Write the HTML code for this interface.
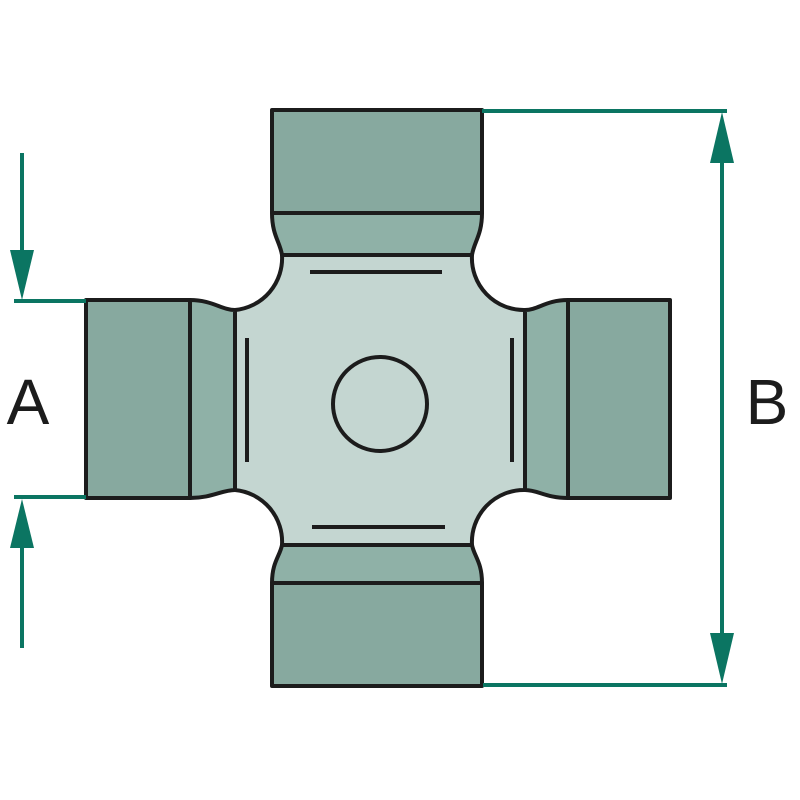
<!DOCTYPE html>
<html><head><style>body{margin:0;background:#fff}svg{display:block}</style></head>
<body>
<svg width="800" height="800" viewBox="0 0 800 800" xmlns="http://www.w3.org/2000/svg">
<g stroke="#1c1c1c" stroke-width="4" stroke-linejoin="round">
<path fill="#c4d6d1" d="M282,255 H472 A52,52 0 0 0 525,310 V490 A52,52 0 0 0 472,545 H282 A52,52 0 0 0 235,490 V310 A52,52 0 0 0 282,255 Z"/>
<path fill="#8fb1a7" d="M272,213 H482 C482,235 474,242 472,255 H282 C280,242 272,235 272,213 Z"/>
<path fill="#8fb1a7" d="M272,583 H482 C482,562 474,556 472,545 H282 C280,556 272,562 272,583 Z"/>
<path fill="#8fb1a7" d="M190,300 V498 C212,498 222,490 235,490 V310 C222,310 212,300 190,300 Z"/>
<path fill="#8fb1a7" d="M568,300 V498 C546,498 538,490 525,490 V310 C538,310 546,300 568,300 Z"/>
<rect x="272" y="110" width="210" height="103" fill="#87a99f"/>
<rect x="272" y="583" width="210" height="103" fill="#87a99f"/>
<rect x="86" y="300" width="104" height="198" fill="#87a99f"/>
<rect x="568" y="300" width="102" height="198" fill="#87a99f"/>
<circle cx="380" cy="404" r="47" fill="#c4d6d1"/>
<line x1="310" y1="272" x2="442" y2="272"/>
<line x1="312" y1="527" x2="445" y2="527"/>
<line x1="247" y1="338" x2="247" y2="462"/>
<line x1="512" y1="338" x2="512" y2="462"/>
</g>
<g stroke="#0b7562" stroke-width="4" fill="#0b7562">
<line x1="14" y1="301" x2="86" y2="301"/>
<line x1="14" y1="497" x2="86" y2="497"/>
<line x1="22" y1="153" x2="22" y2="260"/>
<polygon stroke="none" points="10,250 34,250 22,300"/>
<line x1="22" y1="540" x2="22" y2="648"/>
<polygon stroke="none" points="10,548 34,548 22,499"/>
<line x1="482" y1="111" x2="727" y2="111"/>
<line x1="483" y1="685" x2="727" y2="685"/>
<line x1="722" y1="150" x2="722" y2="645"/>
<polygon stroke="none" points="710,163 734,163 722,112"/>
<polygon stroke="none" points="710,633 734,633 722,684"/>
</g>
<text x="28" y="424" font-family="Liberation Sans, sans-serif" font-size="64" fill="#1c1c1c" text-anchor="middle">A</text>
<text x="767" y="424" font-family="Liberation Sans, sans-serif" font-size="64" fill="#1c1c1c" text-anchor="middle">B</text>
</svg>
</body></html>
